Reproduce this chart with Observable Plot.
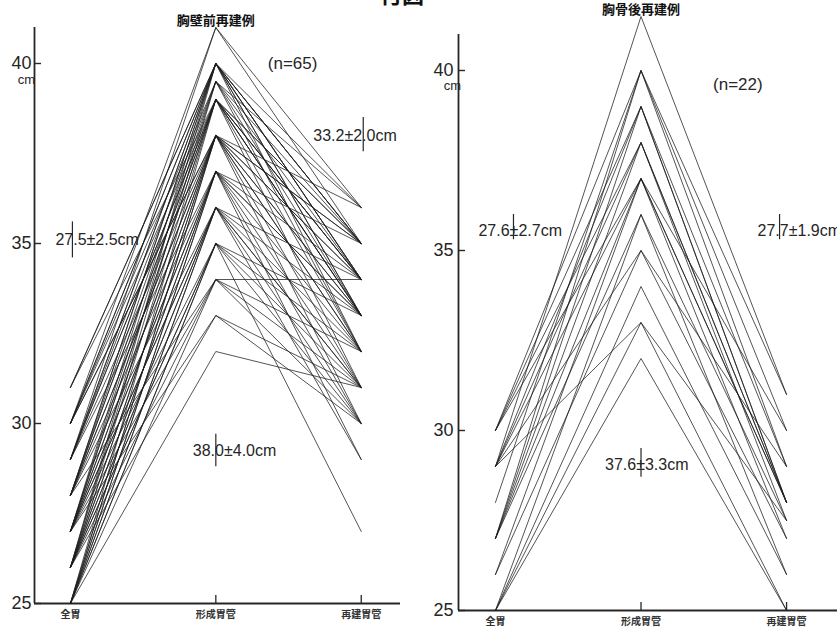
<!DOCTYPE html>
<html><head><meta charset="utf-8">
<script src="https://cdn.jsdelivr.net/npm/d3@7"></script>
<script src="https://cdn.jsdelivr.net/npm/@observablehq/plot@0.6"></script>
<style>
html,body{margin:0;padding:0;background:#fff;overflow:hidden;width:837px;height:633px;}
#wrap{position:relative;width:837px;height:633px;overflow:hidden;}
#left{position:absolute;left:0;top:0;}
#right{position:absolute;left:420px;top:0;}
#fig{position:absolute;left:380px;top:-14px;font:bold 22px "Noto Sans CJK JP";line-height:14px;height:14px;overflow:visible;color:#111;}
</style></head>
<body>
<div id="wrap"><div id="fig">付図</div><div id="left"></div><div id="right"></div></div>
<script>
// categories (x axis)
const cats = ["全胃", "形成胃管", "再建胃管"];
const yTicks = [25, 30, 35, 40];

// 胸壁前再建例 (n=65): one value per patient for each stage, cm
const leftWhole  = [30,29, 31,30,29,28,30,27,29,28,31,26, 30,28,27,29,26, 31,29,28,27,30,26,28,25,27,29, 30,28,27,26,29,25,27,28,26,25,30, 28,27,26,25,29,27,26,25, 27,26,25,28,27,26,25, 26,25,27,26,25, 28,27,25,26, 26,27, 25];
const leftFormed = [41,41, 40,40,40,40,40,40,40,40,40,40, 39.5,39.5,39.5,39.5,39.5, 39,39,39,39,39,39,39,39,39,39, 38,38,38,38,38,38,38,38,38,38,38, 37,37,37,37,37,37,37,37, 36,36,36,36,36,36,36, 35,35,35,35,35, 34,34,34,34, 33,33, 32];
const leftRecon  = [36,35, 35,36,34,35,34,33,35,33,34,32, 35,34,33,36,32, 35,34,33,35,34,32,31,33,34,33, 35,34,33,32,31,34,30,33,35,32,36, 34,33,31,32,30,35,33,29, 34,31,30,32,33,29,31, 27,30,32,33,31, 34,31,30,32, 30,31, 31];

// 胸骨後再建例 (n=22)
const rightWhole  = [29, 30,28,27, 30,29,27, 30,29,27, 30,29,26,27, 25,27, 29,26, 25, 29,25, 25];
const rightFormed = [41.5, 40,40,40, 39,39,39, 38,38,38, 37,37,37,37, 36,36, 35,35, 34, 33,33, 32];
const rightRecon  = [31, 30,29,31, 29,28,28, 28,27.5,28, 30,28,27,28, 27.5,26, 29,27, 26, 27.5,25, 25];

// panel texts
const leftTitle = "胸壁前再建例", rightTitle = "胸骨後再建例";
const leftN = "(n=65)", rightN = "(n=22)";
const leftStatTexts = ["27.5±2.5cm", "38.0±4.0cm", "33.2±2.0cm"];
const rightStatTexts = ["27.6±2.7cm", "37.6±3.3cm", "27.7±1.9cm"];

// annotation layout (cm on y, stage index on x, px offsets)
const leftStatLayout = [
  {cat: 0, y: 35.1, dx: -15, tdx: 2, y1: 34.6, y2: 35.6},
  {cat: 1, y: 29.25, dx: -23, tdx: 0, y1: 28.8, y2: 29.7},
  {cat: 2, y: 38.0, dx: -48, tdx: 2, y1: 37.55, y2: 38.5}
];
const rightStatLayout = [
  {cat: 0, y: 35.55, dx: -17, tdx: 18, y1: 35.3, y2: 36.0},
  {cat: 1, y: 29.05, dx: -36, tdx: 0, y1: 28.7, y2: 29.5},
  {cat: 2, y: 35.55, dx: -29, tdx: -7, y1: 35.3, y2: 36.0}
];

const FONT = "'Liberation Sans', Arial, sans-serif";
const CJK = "'Noto Sans CJK JP', sans-serif";
const INK = "#262626";

function rowsOf(a, b, c) {
  const rows = [];
  a.forEach((v, i) => {
    rows.push({id: i, x: 0, y: v}, {id: i, x: 1, y: b[i]}, {id: i, x: 2, y: c[i]});
  });
  return rows;
}

function panel(cfg) {
  const rows = rowsOf(cfg.whole, cfg.formed, cfg.recon);
  const stats = cfg.statLayout.map((d, i) => ({...d, text: cfg.statTexts[i]}));
  const marks = [
    Plot.ruleX([cfg.xDomain[0]], {stroke: INK, strokeWidth: 1.8}),
    Plot.ruleY([cfg.yDomain[0]], {stroke: INK, strokeWidth: 1.8}),
    Plot.axisY(yTicks, {tickSize: 7, dx: 7, tickFormat: () => "", stroke: INK, strokeWidth: 1.4, label: null}),
    Plot.axisY(yTicks, {tickSize: 0, tickPadding: cfg.yPad, fontSize: 18, fill: INK, fontFamily: FONT, label: null}),
    Plot.text([{t: "cm", v: 40}], {text: "t", y: "v", frameAnchor: "left", textAnchor: "middle", dx: cfg.cmDx, dy: cfg.cmDy, fontSize: 13, fill: INK, fontFamily: FONT}),
    Plot.axisX([1, 2], {tickSize: 8, dy: -8, tickFormat: () => "", stroke: INK, strokeWidth: 1.3, label: null}),
    Plot.axisX([0, 1, 2], {tickSize: 0, tickPadding: 7, tickFormat: i => cats[i], fontSize: 10, fontWeight: "bold", fill: "#333", fontFamily: CJK, label: null}),
    Plot.line(rows, {x: "x", y: "y", z: "id", stroke: "#1e1e1e", strokeWidth: 0.85, strokeOpacity: 0.9}),
    Plot.text([{t: cfg.title, c: 1}], {x: "c", text: "t", frameAnchor: "top", dy: cfg.titleDy, fontSize: 13, fontWeight: "bold", fill: "#111", fontFamily: CJK}),
    Plot.text([{t: cfg.n, c: 1, v: cfg.nY}], {x: "c", y: "v", text: "t", textAnchor: "start", dx: cfg.nDx, fontSize: 17, fill: INK, fontFamily: FONT})
  ];
  for (const s of stats) {
    marks.push(Plot.text([s], {x: "cat", y: "y", text: "text", textAnchor: "start", dx: s.dx, fontSize: 16, fill: INK, fontFamily: FONT}));
    marks.push(Plot.ruleX([s], {x: "cat", y1: "y1", y2: "y2", dx: s.tdx, stroke: INK, strokeWidth: 1.2}));
  }
  return Plot.plot({
    width: cfg.width, height: 633,
    marginLeft: cfg.ml, marginRight: cfg.mr, marginTop: cfg.mt, marginBottom: cfg.mb,
    x: {domain: cfg.xDomain, label: null},
    y: {domain: cfg.yDomain, label: null},
    style: {background: "transparent", overflow: "visible", fontFamily: FONT},
    marks
  });
}

document.getElementById("left").append(panel({
  whole: leftWhole, formed: leftFormed, recon: leftRecon,
  width: 420, ml: 34, mr: 20, mt: 27, mb: 30,
  xDomain: [-0.247, 2.27], yDomain: [25, 41],
  yPad: 3, cmDx: -8, cmDy: 16,
  title: leftTitle, titleDy: -12,
  n: leftN, nY: 40.0, nDx: 52,
  statTexts: leftStatTexts, statLayout: leftStatLayout
}));

document.getElementById("right").append(panel({
  whole: rightWhole, formed: rightFormed, recon: rightRecon,
  width: 417, ml: 38, mr: 0, mt: 34, mb: 23,
  xDomain: [-0.254, 2.35], yDomain: [25, 41],
  yPad: 5, cmDx: -6, cmDy: 15,
  title: rightTitle, titleDy: -30,
  n: rightN, nY: 39.6, nDx: 72,
  statTexts: rightStatTexts, statLayout: rightStatLayout
}));
</script>
</body></html>
